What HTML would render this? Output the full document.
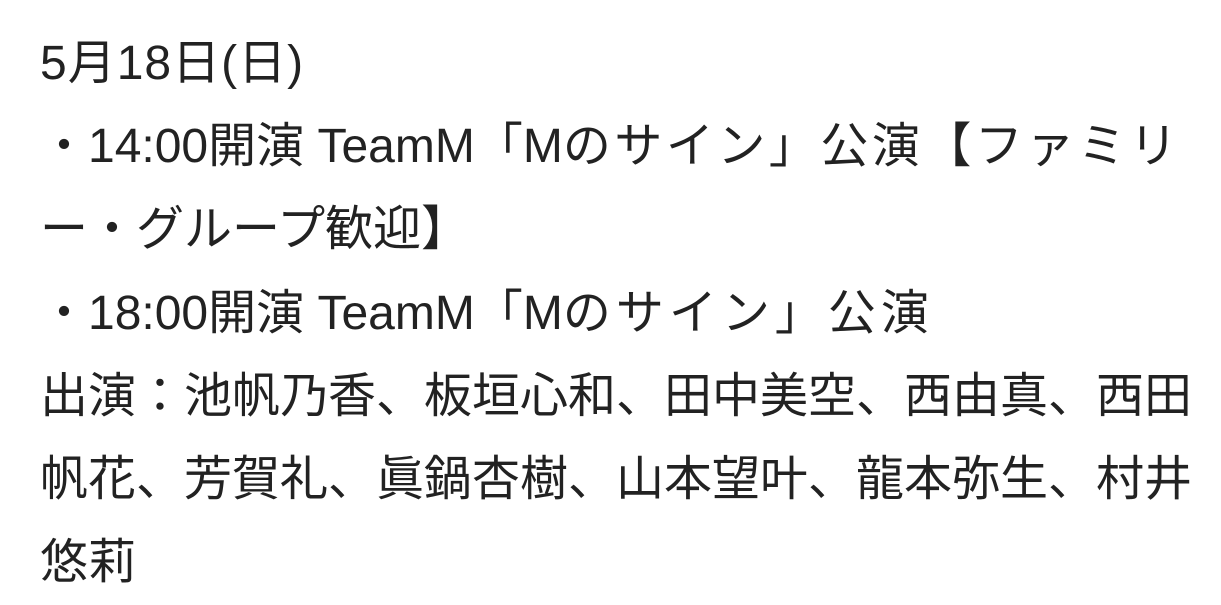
<!DOCTYPE html>
<html><head><meta charset="utf-8"><style>
html,body{margin:0;padding:0;background:#fff;width:1221px;height:605px;overflow:hidden}
.t{position:absolute;left:40px;top:22px;font-family:"Liberation Sans","Noto Sans CJK JP",sans-serif;font-size:48px;line-height:83.2px;color:#222;white-space:nowrap}
.k{letter-spacing:3.5px}
.k2{letter-spacing:5px}
.l1{letter-spacing:1px}
</style></head><body>
<div class="t">
<div class="l1">5月18日(日)</div>
<div>・14:00開演 TeamM「M<span class="k">のサイン」公演【ファミリ</span></div>
<div>ー・グループ歓迎】</div>
<div>・18:00開演 TeamM「M<span class="k2">のサイン」公演</span></div>
<div>出演：池帆乃香、板垣心和、田中美空、西由真、西田</div>
<div>帆花、芳賀礼、眞鍋杏樹、山本望叶、龍本弥生、村井</div>
<div>悠莉</div>
</div>
</body></html>
